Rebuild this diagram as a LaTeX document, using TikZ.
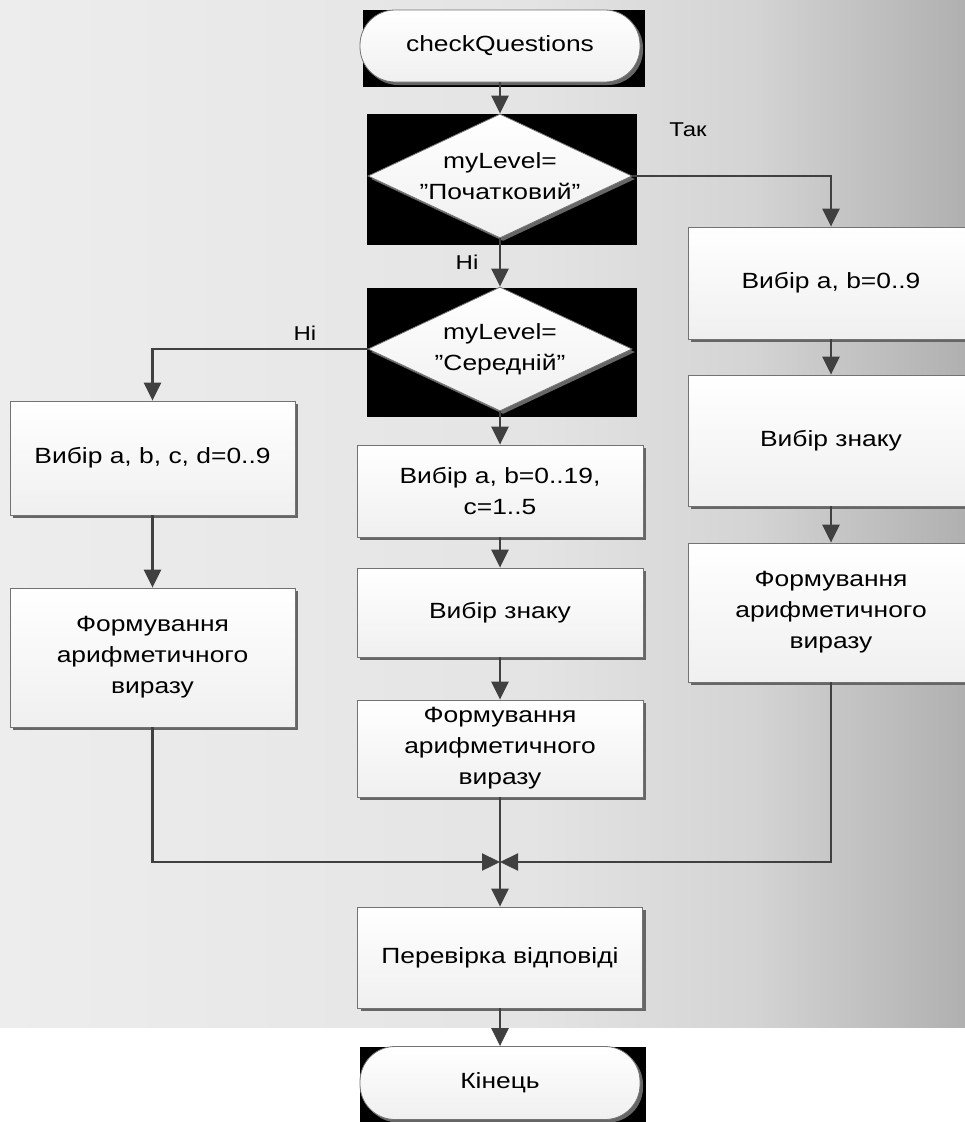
\documentclass[tikz,border=0pt]{standalone}
\usepackage{fontspec}
\setmainfont{Liberation Sans}[FakeStretch=1.2]
\usetikzlibrary{arrows.meta, positioning, shapes.geometric, shadows}

\definecolor{bgl}{RGB}{237,237,237}
\definecolor{bgm}{RGB}{228,228,228}
\definecolor{bgn}{RGB}{212,212,212}
\definecolor{bgr}{RGB}{176,176,176}
\pgfdeclarehorizontalshading{backdrop}{100bp}{color(0bp)=(bgl); color(25bp)=(bgl); color(52.5bp)=(bgm); color(64bp)=(bgn); color(75bp)=(bgr); color(100bp)=(bgr)}

\begin{document}
\begin{tikzpicture}[
        x=1pt, y=-1pt,
        >={Triangle[width=17pt,length=18pt]},
        every node/.style={font=\fontsize{22}{31}\selectfont, align=center},
        flow/.style={draw=black!75, line width=2.4pt},
        box/.style={rectangle, draw=black!55, line width=0.8pt,
            top color=white, bottom color=black!6,
            minimum width=286pt, inner sep=2pt,
            drop shadow={shadow xshift=3pt, shadow yshift=-3pt, fill=black!60, opacity=1}},
        term/.style={box, rounded corners=35pt, minimum width=280pt, minimum height=72pt},
        decision/.style={box, diamond, aspect=2.12, inner sep=-20pt,
            minimum width=264pt, minimum height=124pt},
        lbl/.style={font=\fontsize{20}{24}\selectfont}]

    \clip (0,0) rectangle (965,1122);
    \shade [shading=backdrop] (0,0) rectangle (965,1027);

    % black frames behind
    \fill [black] (363,10) rectangle (645,87);
    \fill [black] (367,114) rectangle (637,245);
    \fill [black] (367,288) rectangle (637,417);
    \fill [black] (360,1047) rectangle (646,1122);

    \node [term]                         (start)  at (500,46)    {checkQuestions};
    \node [decision]                     (lvl1)   at (500,176)   {myLevel=\\”Початковий”};
    \node [decision]                     (lvl2)   at (500,349)   {myLevel=\\”Середній”};

    \node [box, minimum width=285pt, minimum height=114pt] (hard1) at (152.5,458)   {Вибір a, b, c, d=0..9};
    \node [box, minimum width=285pt, minimum height=139pt] (hard2) at (152.5,657.5) {Формування\\арифметичного\\виразу};

    \node [box, minimum height=92pt]     (mid1)   at (500,491)   {Вибір a, b=0..19,\\c=1..5};
    \node [box, minimum height=89pt]     (mid2)   at (500,612.5) {Вибір знаку};
    \node [box, minimum height=97pt]     (mid3)   at (500,748.5) {Формування\\арифметичного\\виразу};

    \node [box, minimum height=112pt]    (easy1)  at (831,283)   {Вибір a, b=0..9};
    \node [box, minimum height=131pt]    (easy2)  at (831,440.5) {Вибір знаку};
    \node [box, minimum height=139pt]    (easy3)  at (831,612.5) {Формування\\арифметичного\\виразу};

    \node [box, minimum width=285pt, minimum height=101pt] (check) at (500,957.5) {Перевірка відповіді};
    \node [term, minimum height=73pt]    (finish) at (500,1083)  {Кінець};

    \coordinate (join) at (500,862);

    \node [lbl] (yes1) at (688,130) {Так};
    \node [lbl] (no1)  at (467,262) {Ні};
    \node [lbl] (no2)  at (305,333) {Ні};

    \draw [flow,->] (start) -- (lvl1);
    \draw [flow,->] (lvl1.east) -| (easy1);
    \draw [flow,->] (lvl1) -- (lvl2);
    \draw [flow,->] (lvl2.west) -| (hard1);
    \draw [flow,->] (lvl2) -- (mid1);
    \draw [flow,->] (hard1) -- (hard2);
    \draw [flow,->] (mid1) -- (mid2);
    \draw [flow,->] (mid2) -- (mid3);
    \draw [flow,->] (easy1) -- (easy2);
    \draw [flow,->] (easy2) -- (easy3);
    \draw [flow,->] (hard2) |- (join);
    \draw [flow,->] (easy3) |- (join);
    \draw [flow,->] (mid3) -- (check);
    \draw [flow,->] (check) -- (finish);
\end{tikzpicture}
\end{document}
